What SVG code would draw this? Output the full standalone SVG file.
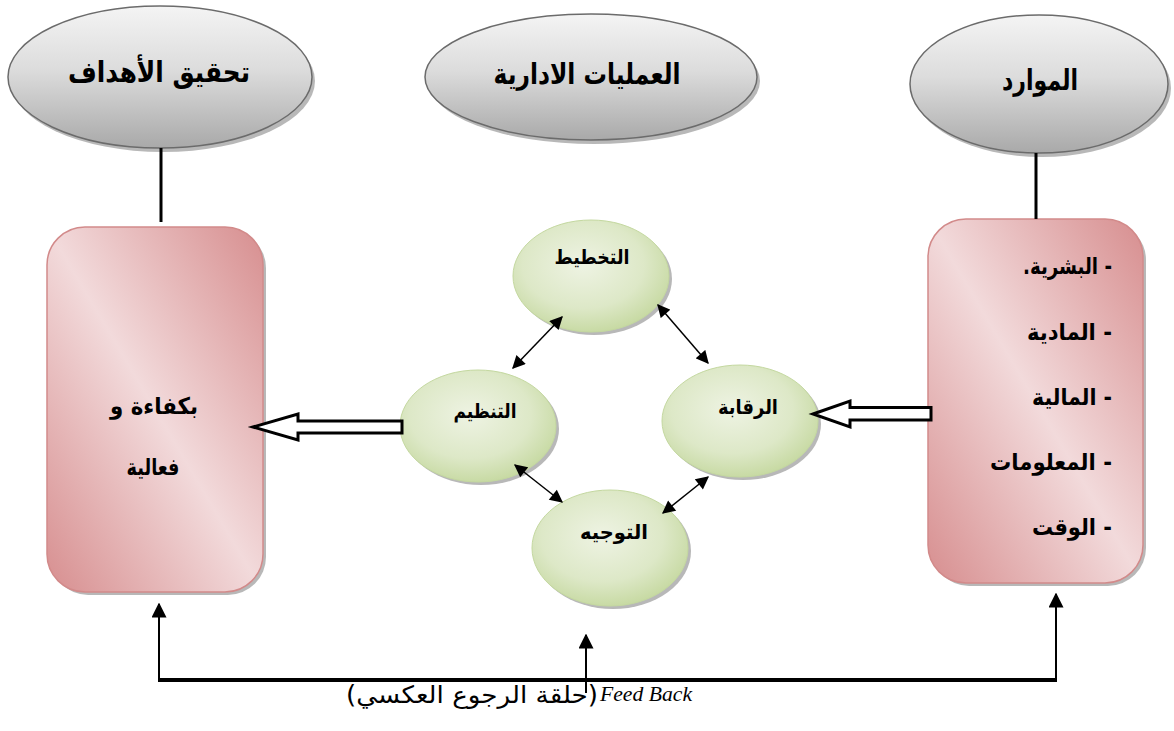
<svg xmlns="http://www.w3.org/2000/svg" width="1174" height="731" viewBox="0 0 1174 731">
<defs>
  <linearGradient id="gGray" x1="0" y1="0" x2="0" y2="1">
    <stop offset="0" stop-color="#f4f4f4"/>
    <stop offset="0.45" stop-color="#dcdcdc"/>
    <stop offset="1" stop-color="#a9a9a9"/>
  </linearGradient>
  <linearGradient id="gPink" x1="1" y1="0" x2="0" y2="1">
    <stop offset="0" stop-color="#d78e8f"/>
    <stop offset="0.5" stop-color="#f2dadb"/>
    <stop offset="1" stop-color="#d78e8f"/>
  </linearGradient>
  <radialGradient id="gGreen" cx="0.45" cy="0.4" r="0.65">
    <stop offset="0" stop-color="#eef3e3"/>
    <stop offset="0.6" stop-color="#dde8c7"/>
    <stop offset="1" stop-color="#c3d79c"/>
  </radialGradient>
  <marker id="ah" viewBox="0 0 10 10" refX="9" refY="5" markerWidth="14" markerHeight="13" markerUnits="userSpaceOnUse" orient="auto-start-reverse">
    <path d="M0,0 L10,5 L0,10 z" fill="#000"/>
  </marker>
  <marker id="ahb" viewBox="0 0 10 10" refX="9" refY="5" markerWidth="15" markerHeight="15" markerUnits="userSpaceOnUse" orient="auto">
    <path d="M0,0 L10,5 L0,10 z" fill="#000"/>
  </marker>
</defs>
<style>
  .gray{fill:url(#gGray);stroke:#6b6b6b;stroke-width:1.5}
  .shadow{fill:#9a9a9a;opacity:0.7}
  .pink{fill:url(#gPink);stroke:#d28a8a;stroke-width:1.5}
  .green{fill:url(#gGreen);stroke:#c4d8a0;stroke-width:1}
  .ar{font-family:"DejaVu Sans","Noto Sans",sans-serif;font-weight:bold;fill:#000;direction:rtl;unicode-bidi:embed}
  .big{font-size:29px}
  .mid{font-size:23px}
  .sm{font-size:20px}
  .conn{stroke:#000;fill:none}
  .block{fill:#fff;stroke:#000;stroke-width:3;stroke-linejoin:miter}
</style>

<g id="goals-ellipse">
  <ellipse class="shadow" cx="163" cy="81" rx="152" ry="71"/>
  <ellipse class="gray" cx="160" cy="77" rx="152" ry="71"/>
  <text class="ar big" x="159" y="82" text-anchor="middle" textLength="182" lengthAdjust="spacingAndGlyphs">تحقيق الأهداف</text>
</g>

<g id="process-ellipse">
  <ellipse class="shadow" cx="594" cy="81" rx="166" ry="63"/>
  <ellipse class="gray" cx="591" cy="77" rx="166" ry="63"/>
  <text class="ar big" x="587" y="84" text-anchor="middle" textLength="187" lengthAdjust="spacingAndGlyphs">العمليات الادارية</text>
</g>

<g id="resources-ellipse">
  <ellipse class="shadow" cx="1042" cy="88" rx="129" ry="69"/>
  <ellipse class="gray" cx="1039" cy="84" rx="129" ry="69"/>
  <text class="ar big" x="1040" y="90" text-anchor="middle" textLength="76" lengthAdjust="spacingAndGlyphs">الموارد</text>
</g>

<g id="goals-box">
  <rect class="shadow" x="50" y="230" width="216" height="365" rx="38"/>
  <rect class="pink" x="47" y="227" width="216" height="365" rx="38"/>
  <text class="ar mid" x="154" y="414" text-anchor="middle" textLength="88" lengthAdjust="spacingAndGlyphs">بكفاءة و</text>
  <text class="ar mid" x="153" y="475" text-anchor="middle" textLength="53" lengthAdjust="spacingAndGlyphs">فعالية</text>
</g>

<g id="resources-box">
  <rect class="shadow" x="931" y="222" width="215" height="364" rx="38"/>
  <rect class="pink" x="928" y="219" width="215" height="364" rx="38"/>
  <text class="ar mid" x="1112" y="274" text-anchor="start" textLength="89" lengthAdjust="spacingAndGlyphs">- البشرية.</text>
  <text class="ar mid" x="1112" y="340" text-anchor="start" textLength="85" lengthAdjust="spacingAndGlyphs">- المادية</text>
  <text class="ar mid" x="1112" y="405" text-anchor="start" textLength="80" lengthAdjust="spacingAndGlyphs">- المالية</text>
  <text class="ar mid" x="1112" y="470" text-anchor="start" textLength="122" lengthAdjust="spacingAndGlyphs">- المعلومات</text>
  <text class="ar mid" x="1112" y="535" text-anchor="start" textLength="80" lengthAdjust="spacingAndGlyphs">- الوقت</text>
</g>

<g id="planning">
  <ellipse class="shadow" cx="594" cy="279" rx="78" ry="56"/>
  <ellipse class="green" cx="591" cy="276" rx="78" ry="56"/>
  <text class="ar sm" x="592" y="264" text-anchor="middle" textLength="75" lengthAdjust="spacingAndGlyphs">التخطيط</text>
</g>

<g id="organizing">
  <ellipse class="shadow" cx="481" cy="429" rx="78" ry="56"/>
  <ellipse class="green" cx="478" cy="426" rx="78" ry="56"/>
  <text class="ar sm" x="485" y="418" text-anchor="middle" textLength="63" lengthAdjust="spacingAndGlyphs">التنظيم</text>
</g>

<g id="control">
  <ellipse class="shadow" cx="743" cy="424" rx="78" ry="56"/>
  <ellipse class="green" cx="740" cy="421" rx="78" ry="56"/>
  <text class="ar sm" x="748" y="414" text-anchor="middle" textLength="60" lengthAdjust="spacingAndGlyphs">الرقابة</text>
</g>

<g id="directing">
  <ellipse class="shadow" cx="613" cy="551" rx="78" ry="58"/>
  <ellipse class="green" cx="610" cy="548" rx="78" ry="58"/>
  <text class="ar sm" x="614" y="539" text-anchor="middle" textLength="68" lengthAdjust="spacingAndGlyphs">التوجيه</text>
</g>

<g id="connectors">
  <line class="conn" x1="161" y1="148" x2="161" y2="222" stroke-width="3"/>
  <line class="conn" x1="1036" y1="153" x2="1036" y2="219" stroke-width="3"/>

  <line class="conn" x1="562" y1="317" x2="513" y2="368" stroke-width="1.5" marker-start="url(#ah)" marker-end="url(#ah)"/>
  <line class="conn" x1="658" y1="305" x2="708" y2="363" stroke-width="1.5" marker-start="url(#ah)" marker-end="url(#ah)"/>
  <line class="conn" x1="515" y1="465" x2="562" y2="502" stroke-width="1.5" marker-start="url(#ah)" marker-end="url(#ah)"/>
  <line class="conn" x1="708" y1="477" x2="663" y2="513" stroke-width="1.5" marker-start="url(#ah)" marker-end="url(#ah)"/>

  <polygon class="block" points="253,427 298,414 298,421 402,421 402,433 298,433 298,440"/>
  <polygon class="block" points="813,414 850,401 850,407.5 931,407.5 931,420 850,420 850,427"/>

  <line class="conn" x1="159" y1="680" x2="159" y2="604" stroke-width="2" marker-end="url(#ahb)"/>
  <line class="conn" x1="1056" y1="680" x2="1056" y2="594" stroke-width="2" marker-end="url(#ahb)"/>
  <line class="conn" x1="586" y1="693" x2="586" y2="635" stroke-width="2" marker-end="url(#ahb)"/>
  <line class="conn" x1="158" y1="680" x2="1057" y2="680" stroke-width="4"/>
</g>

<g id="caption">
  <text x="600" y="701" font-family="Liberation Serif, serif" font-style="italic" font-size="22" fill="#000" textLength="92" lengthAdjust="spacingAndGlyphs">Feed Back</text>
  <text x="598" y="703" font-family="DejaVu Sans, sans-serif" font-size="24" fill="#000" direction="rtl" unicode-bidi="embed" text-anchor="start" textLength="252" lengthAdjust="spacingAndGlyphs">(حلقة الرجوع العكسي)</text>
</g>
</svg>
